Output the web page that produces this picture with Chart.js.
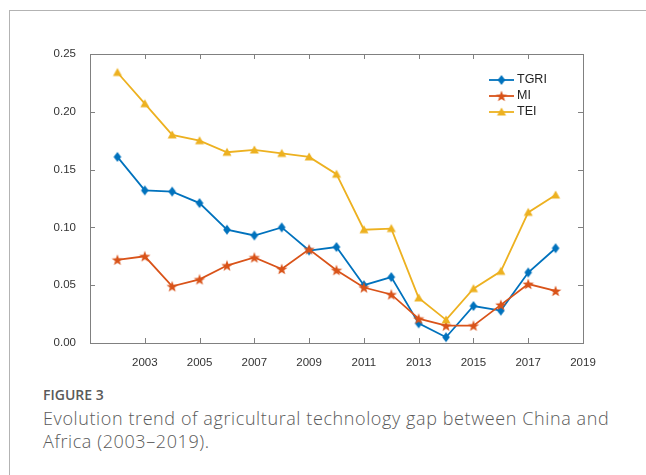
<!DOCTYPE html>
<html>
<head>
<meta charset="utf-8">
<script src="https://cdn.jsdelivr.net/npm/chart.js@4"></script>
<style>
  html, body { margin: 0; padding: 0; background: #fff; }
  body { width: 646px; height: 475px; position: relative; overflow: hidden; }
  .frame { position: absolute; left: 9px; top: 10px; width: 700px; height: 500px;
           border-left: 1px solid #b3b3b3; border-top: 1px solid #b3b3b3; }
  .chart-box { position: absolute; left: 0; top: 0; width: 646px; height: 372px; }
  .fig { position: absolute; left: 43px; top: 385px; font-family: 'Open Sans', sans-serif;
         font-weight: 600; font-size: 14px; color: #5a5a5a; }
  .caption { position: absolute; left: 43px; top: 407px; width: 575px; font-family: 'Open Sans', sans-serif;
             font-weight: 300; font-size: 18px; letter-spacing: 0.6px; line-height: 23px; color: #5a5a5a; }
</style>
</head>
<body>
<div class="frame"></div>
<div class="chart-box"><canvas id="gapChart"></canvas></div>
<div class="fig">FIGURE 3</div>
<div class="caption">Evolution trend of agricultural technology gap between China and Africa (2003–2019).</div>
<script>
// valores
const years = [2002, 2003, 2004, 2005, 2006, 2007, 2008, 2009, 2010, 2011, 2012, 2013, 2014, 2015, 2016, 2017, 2018];
const tgri = [0.161, 0.132, 0.131, 0.121, 0.098, 0.093, 0.100, 0.080, 0.083, 0.050, 0.057, 0.017, 0.005, 0.032, 0.028, 0.061, 0.082];
const mi = [0.072, 0.075, 0.049, 0.055, 0.067, 0.074, 0.064, 0.081, 0.063, 0.048, 0.042, 0.021, 0.015, 0.015, 0.033, 0.051, 0.045];
const tei = [0.234, 0.207, 0.180, 0.175, 0.165, 0.167, 0.164, 0.161, 0.146, 0.098, 0.099, 0.039, 0.020, 0.047, 0.062, 0.113, 0.128];
const xTicks = [2003, 2005, 2007, 2009, 2011, 2013, 2015, 2017, 2019];
const yTicks = [0, 0.05, 0.10, 0.15, 0.20, 0.25];

// marcadores estilo MATLAB
function marker(shape, color) {
  const s = 14, c = document.createElement('canvas');
  c.width = s; c.height = s;
  const g = c.getContext('2d'), m = s / 2;
  g.fillStyle = color;
  g.beginPath();
  if (shape === 'diamond') {
    g.moveTo(m, m - 5); g.lineTo(m + 3.8, m); g.lineTo(m, m + 5); g.lineTo(m - 3.8, m);
  } else if (shape === 'star') {
    for (let i = 0; i < 10; i++) {
      const r = i % 2 ? 2.4 : 6;
      const a = -Math.PI / 2 + i * Math.PI / 5;
      g.lineTo(m + r * Math.cos(a), m + 0.5 + r * Math.sin(a));
    }
  } else {
    g.moveTo(m, m - 4.5); g.lineTo(m + 4.5, m + 3.5); g.lineTo(m - 4.5, m + 3.5);
  }
  g.closePath();
  g.fill();
  return c;
}

const boxTicks = {
  id: 'boxTicks',
  beforeDatasetsDraw(chart) {
    const { ctx, chartArea: a, scales: { x, y } } = chart;
    ctx.save();
    ctx.strokeStyle = '#808080';
    ctx.lineWidth = 1;
    ctx.strokeRect(Math.round(a.left) + 0.5, Math.round(a.top) + 0.5,
      Math.round(a.right - a.left), Math.round(a.bottom - a.top));
    ctx.beginPath();
    x.ticks.forEach(t => {
      const px = Math.round(x.getPixelForValue(t.value)) + 0.5;
      ctx.moveTo(px, a.bottom); ctx.lineTo(px, a.bottom - 5);
      ctx.moveTo(px, a.top); ctx.lineTo(px, a.top + 5);
    });
    y.ticks.forEach(t => {
      const py = Math.round(y.getPixelForValue(t.value)) + 0.5;
      ctx.moveTo(a.left, py); ctx.lineTo(a.left + 5, py);
      ctx.moveTo(a.right, py); ctx.lineTo(a.right - 5, py);
    });
    ctx.stroke();
    ctx.restore();
  }
};

const innerLegend = {
  id: 'innerLegend',
  afterDatasetsDraw(chart) {
    const { ctx, chartArea: a } = chart;
    const x0 = a.right - 94, y0 = a.top + 26;
    ctx.save();
    ctx.font = '12.5px "Liberation Sans", Arial, sans-serif';
    ctx.textBaseline = 'middle';
    chart.data.datasets.forEach((ds, i) => {
      const yy = y0 + i * 16;
      ctx.strokeStyle = ds.borderColor;
      ctx.lineWidth = ds.borderWidth;
      ctx.beginPath();
      ctx.moveTo(x0, yy); ctx.lineTo(x0 + 25, yy);
      ctx.stroke();
      const img = ds.pointStyle;
      ctx.drawImage(img, x0 + 12.5 - img.width / 2, yy - img.height / 2);
      ctx.fillStyle = '#222';
      ctx.fillText(ds.label, x0 + 28, yy);
    });
    ctx.restore();
  }
};

const font = { family: '"Liberation Sans", Arial, sans-serif', size: 11.5 };

new Chart(document.getElementById('gapChart'), {
  type: 'line',
  data: {
    labels: years,
    datasets: [
      { label: 'TGRI', data: years.map((yr, i) => ({ x: yr, y: tgri[i] })), borderColor: '#0072BD',
        pointStyle: marker('diamond', '#0072BD'), order: 2 },
      { label: 'MI', data: years.map((yr, i) => ({ x: yr, y: mi[i] })), borderColor: '#D95319',
        pointStyle: marker('star', '#D95319'), order: 1 },
      { label: 'TEI', data: years.map((yr, i) => ({ x: yr, y: tei[i] })), borderColor: '#EDB120',
        pointStyle: marker('triangle', '#EDB120'), order: 0 }
    ].map(ds => Object.assign(ds, { borderWidth: 1.8, pointRadius: 5, tension: 0, fill: false }))
  },
  options: {
    responsive: true,
    maintainAspectRatio: false,
    animation: false,
    layout: { padding: { top: 54, right: 63, left: 0, bottom: 0 } },
    plugins: { legend: { display: false }, tooltip: { enabled: false } },
    scales: {
      x: {
        type: 'linear', min: 2001, max: 2019,
        afterBuildTicks: s => { s.ticks = xTicks.map(v => ({ value: v })); },
        afterFit: s => { s.height = 29; },
        grid: { display: false }, border: { display: false },
        ticks: { font, color: '#333', padding: 5, maxRotation: 0, callback: v => String(v) }
      },
      y: {
        min: 0, max: 0.25,
        afterBuildTicks: s => { s.ticks = yTicks.map(v => ({ value: v })); },
        afterFit: s => { s.width = 90; },
        grid: { display: false }, border: { display: false },
        ticks: { font, color: '#333', padding: 6, callback: v => Number(v).toFixed(2) }
      }
    }
  },
  plugins: [boxTicks, innerLegend]
});
</script>
</body>
</html>
